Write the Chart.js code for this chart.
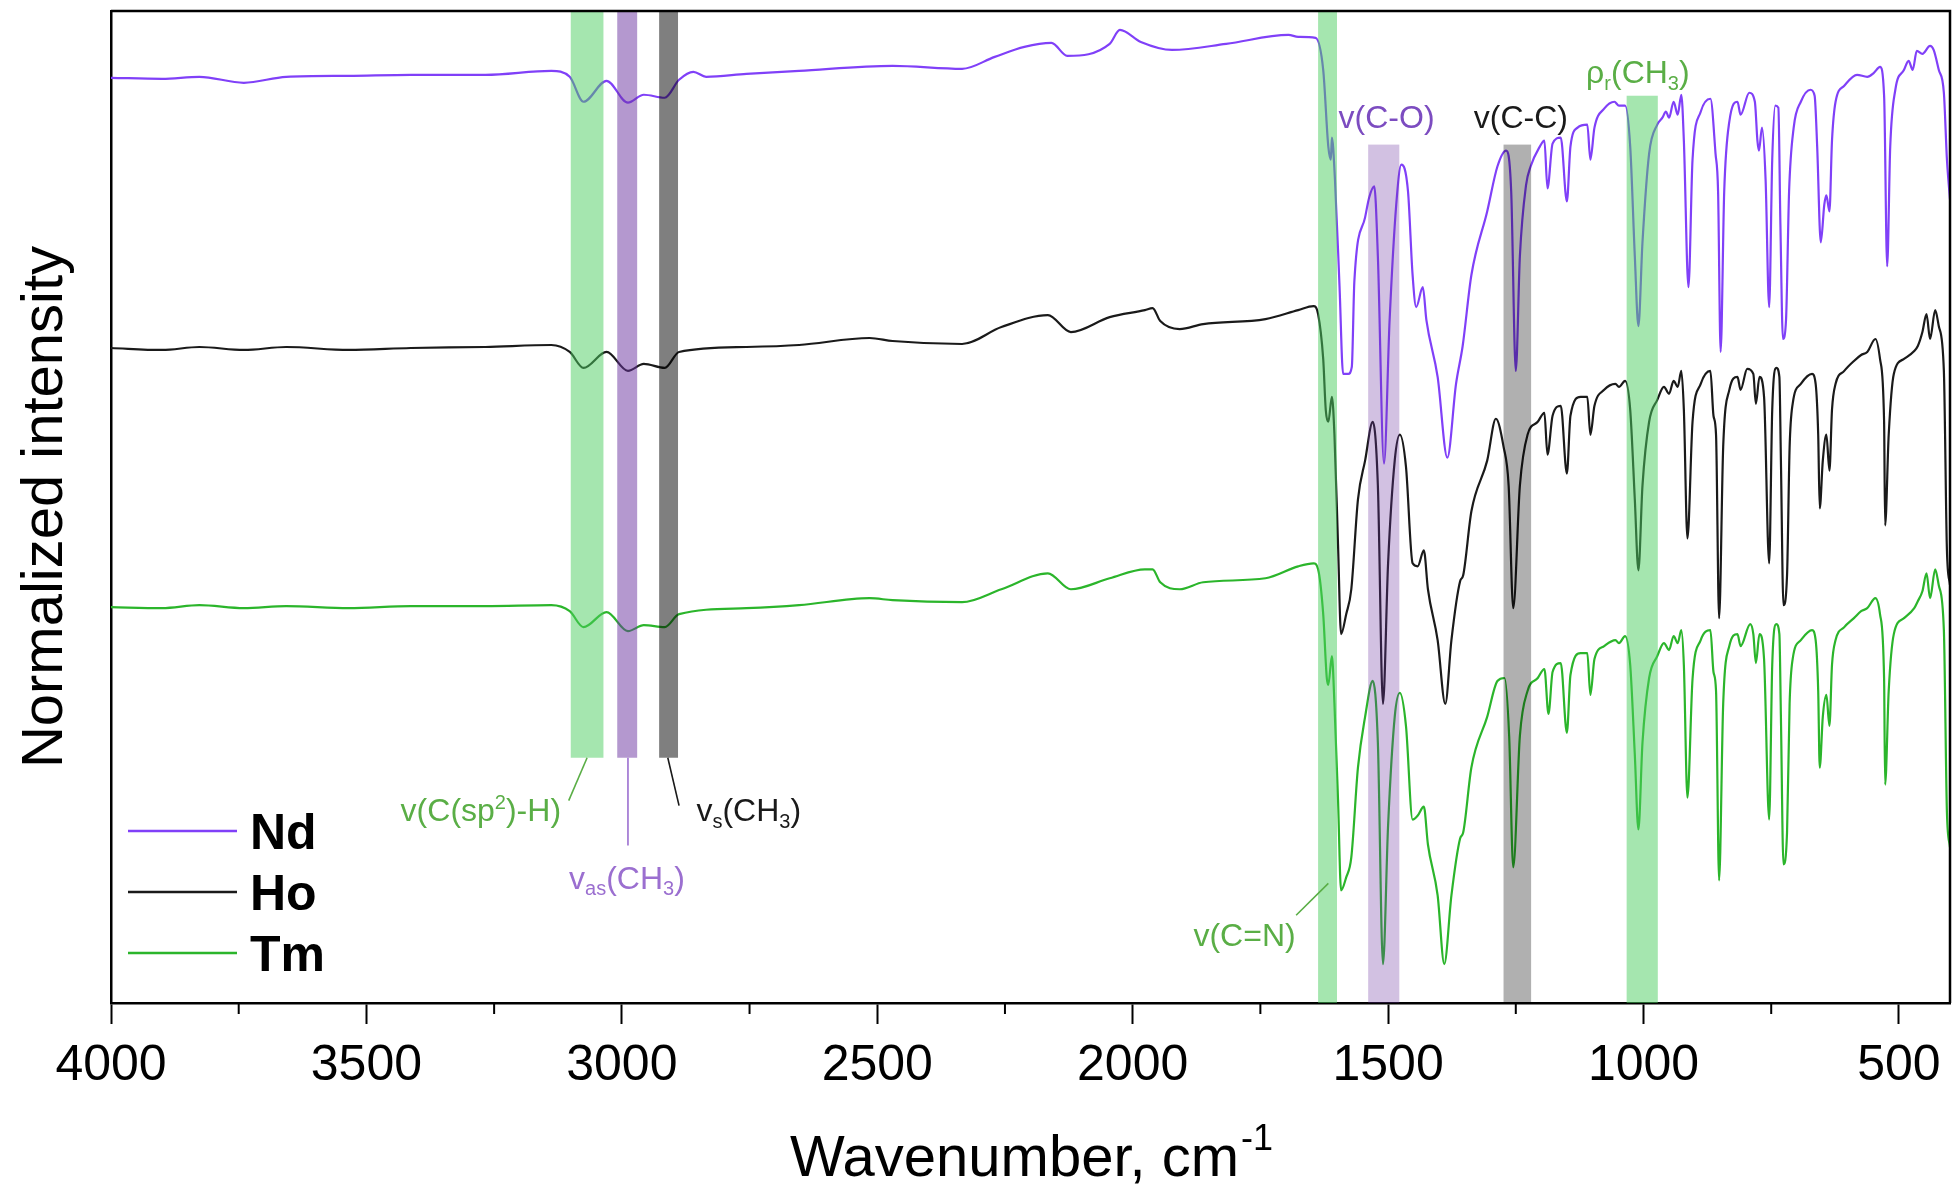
<!DOCTYPE html>
<html>
<head>
<meta charset="utf-8">
<title>IR spectra Nd / Ho / Tm</title>
<script src="https://cdn.jsdelivr.net/npm/chart.js@4.4.1/dist/chart.umd.min.js"></script>
<style>
    html, body { margin: 0; padding: 0; background: #fff; }
</style>
</head>
<body>
<canvas id="irChart" width="1953" height="1185"></canvas>
<script>
// Spectra: [wavenumber (cm-1), stacked normalized intensity]
const seriesLabels = ['Nd', 'Ho', 'Tm'];

const ndSpectrum = [
    [4000, 92.8], [3900, 92.7], [3827, 92.9], [3740, 92.3], [3657, 92.9], [3535, 93.0], [3413, 93.1], [3267, 93.1],
    [3138, 93.5], [3102, 92.9], [3075, 90.4], [3030, 92.5], [2988, 90.3], [2957, 91.1], [2916, 90.8], [2888, 92.6],
    [2860, 93.4], [2835, 92.9], [2756, 93.2], [2653, 93.5], [2470, 94.0], [2334, 93.7], [2270, 94.9], [2212, 95.9],
    [2159, 96.3], [2128, 95.0], [2045, 96.2], [2025, 97.6], [1984, 96.4], [1923, 95.6], [1817, 96.2], [1695, 97.1],
    [1676, 96.9], [1642, 96.8], [1627, 93.6], [1617, 85.9], [1612, 84.6], [1610, 86.8], [1604, 82.6], [1595, 71.8],
    [1588, 63.1], [1578, 63.1], [1571, 63.8], [1566, 72.4], [1545, 78.8], [1537, 80.8], [1527, 81.9], [1520, 74.9],
    [1508, 54.1], [1497, 68.5], [1484, 80.1], [1474, 84.1], [1461, 81.4], [1452, 73.0], [1445, 69.8], [1432, 71.8],
    [1425, 68.5], [1403, 62.8], [1384, 54.7], [1367, 62.1], [1354, 65.9], [1337, 73.0], [1306, 79.4], [1286, 83.9],
    [1269, 85.5], [1259, 81.4], [1250, 63.4], [1242, 74.9], [1230, 82.0], [1221, 83.9], [1203, 85.9], [1194, 86.5],
    [1188, 81.7], [1178, 86.2], [1162, 86.8], [1150, 80.4], [1143, 85.9], [1129, 87.8], [1110, 88.1], [1104, 84.6],
    [1096, 87.8], [1077, 89.7], [1057, 90.4], [1048, 90.0], [1036, 90.0], [1026, 85.9], [1017, 74.9], [1010, 67.9],
    [1002, 76.3], [989, 85.2], [973, 88.1], [963, 88.8], [956, 89.4], [950, 88.8], [941, 90.4], [933, 89.1],
    [926, 91.1], [921, 86.5], [912, 71.8], [904, 84.6], [888, 89.4], [869, 90.7], [859, 85.2], [854, 81.4],
    [849, 65.3], [842, 81.4], [832, 88.4], [816, 90.4], [810, 89.1], [793, 91.3], [782, 90.4], [777, 86.5],
    [774, 85.5], [768, 87.8], [761, 82.6], [754, 69.8], [748, 84.6], [742, 90.0], [736, 89.8], [732, 78.1],
    [727, 66.6], [721, 68.5], [715, 81.4], [706, 87.8], [692, 90.4], [673, 91.6], [665, 91.0], [660, 85.9],
    [653, 76.3], [646, 80.1], [642, 81.0], [636, 79.4], [631, 86.5], [624, 90.4], [607, 92.0], [582, 93.1],
    [562, 92.9], [549, 93.3], [537, 93.9], [529, 91.0], [523, 73.9], [517, 85.9], [507, 91.6], [490, 93.6],
    [481, 94.5], [473, 93.6], [465, 95.5], [454, 95.2], [439, 96.0], [432, 95.6], [422, 93.6], [412, 91.3],
    [406, 84.6], [400, 80.6]
];

const hoSpectrum = [
    [4000, 65.7], [3900, 65.5], [3827, 65.8], [3740, 65.5], [3657, 65.8], [3535, 65.5], [3413, 65.7], [3267, 65.8],
    [3138, 66.0], [3102, 65.3], [3075, 63.7], [3030, 65.3], [2988, 63.4], [2957, 64.1], [2916, 63.7], [2888, 65.3],
    [2756, 65.8], [2653, 66.0], [2515, 66.7], [2470, 66.4], [2334, 66.1], [2257, 67.8], [2166, 69.0], [2121, 67.3],
    [2045, 68.8], [1976, 69.5], [1961, 69.7], [1946, 68.4], [1908, 67.6], [1862, 68.1], [1740, 68.6], [1676, 69.5],
    [1646, 69.9], [1637, 69.1], [1627, 64.6], [1622, 59.5], [1617, 58.3], [1610, 60.8], [1605, 57.0], [1598, 46.0],
    [1592, 37.0], [1582, 39.0], [1572, 41.5], [1559, 50.5], [1545, 54.4], [1530, 58.3], [1520, 51.9], [1510, 30.0],
    [1500, 44.1], [1487, 54.4], [1477, 57.0], [1465, 53.8], [1452, 44.1], [1442, 43.8], [1430, 45.4], [1422, 41.5],
    [1403, 36.4], [1388, 30.0], [1376, 36.4], [1359, 42.3], [1353, 42.9], [1337, 49.3], [1306, 54.4], [1289, 58.6],
    [1274, 55.8], [1264, 51.9], [1255, 39.6], [1242, 51.9], [1227, 57.0], [1207, 58.3], [1194, 59.2], [1188, 55.0],
    [1178, 58.9], [1162, 59.9], [1150, 53.1], [1143, 58.9], [1123, 60.8], [1110, 60.8], [1104, 57.0], [1096, 59.9],
    [1077, 61.5], [1055, 62.1], [1048, 61.8], [1036, 62.4], [1026, 59.5], [1017, 50.5], [1010, 43.4], [1002, 51.9],
    [989, 58.3], [973, 60.5], [960, 61.8], [950, 61.1], [941, 62.4], [933, 61.8], [926, 63.4], [921, 59.5],
    [914, 46.6], [904, 58.3], [888, 62.1], [869, 63.4], [863, 58.9], [858, 57.0], [852, 38.6], [844, 55.8],
    [832, 61.5], [816, 62.8], [810, 61.5], [797, 63.6], [785, 63.1], [780, 60.1], [773, 62.8], [764, 60.8],
    [754, 44.1], [748, 59.5], [740, 63.7], [734, 62.8], [731, 54.4], [726, 39.9], [719, 42.9], [714, 55.7],
    [708, 60.1], [692, 62.1], [670, 63.1], [663, 62.1], [658, 57.0], [655, 49.6], [649, 54.4], [642, 57.0],
    [636, 53.4], [631, 59.5], [624, 62.1], [607, 63.4], [588, 64.4], [574, 65.0], [562, 65.3], [546, 66.6],
    [537, 64.6], [529, 58.3], [527, 47.9], [520, 57.0], [510, 63.1], [490, 64.6], [470, 65.4], [463, 65.9],
    [454, 67.3], [446, 69.1], [439, 66.6], [429, 69.5], [422, 67.9], [412, 63.4], [406, 45.4], [400, 41.9]
];

const tmSpectrum = [
    [4000, 39.7], [3900, 39.6], [3827, 39.9], [3740, 39.6], [3657, 39.8], [3535, 39.6], [3413, 39.8], [3267, 39.8],
    [3138, 39.9], [3102, 39.3], [3075, 37.7], [3030, 39.2], [2988, 37.3], [2957, 37.9], [2916, 37.7], [2888, 39.0],
    [2756, 39.6], [2653, 39.9], [2515, 40.6], [2470, 40.4], [2334, 40.2], [2257, 41.5], [2166, 43.1], [2121, 41.5],
    [2045, 42.6], [1976, 43.5], [1961, 43.5], [1946, 42.2], [1908, 41.5], [1862, 42.2], [1740, 42.6], [1676, 43.8],
    [1646, 44.1], [1637, 43.5], [1627, 39.0], [1620, 32.6], [1617, 31.9], [1610, 34.8], [1605, 30.0], [1598, 20.4],
    [1592, 11.3], [1582, 12.6], [1572, 14.6], [1559, 23.6], [1545, 28.7], [1530, 32.3], [1520, 26.1], [1510, 3.9],
    [1500, 17.8], [1487, 28.7], [1477, 31.1], [1465, 27.8], [1452, 18.4], [1442, 18.8], [1430, 19.7], [1422, 15.9],
    [1403, 10.8], [1390, 3.9], [1376, 10.8], [1359, 16.5], [1353, 17.1], [1337, 23.6], [1306, 28.7], [1286, 32.3],
    [1272, 32.6], [1263, 26.8], [1255, 13.6], [1242, 26.8], [1227, 31.3], [1207, 32.6], [1194, 33.5], [1186, 29.0],
    [1178, 33.2], [1162, 34.1], [1150, 27.1], [1143, 32.9], [1123, 35.1], [1110, 35.1], [1104, 30.9], [1096, 34.5],
    [1077, 35.8], [1055, 36.4], [1048, 36.1], [1036, 36.8], [1026, 33.9], [1017, 24.9], [1010, 17.4], [1002, 26.1],
    [989, 32.6], [973, 34.8], [960, 36.1], [950, 35.4], [941, 36.8], [933, 36.1], [926, 37.4], [921, 33.9],
    [914, 20.6], [904, 32.5], [888, 36.4], [869, 37.4], [863, 33.2], [858, 31.3], [852, 12.3], [844, 30.0],
    [832, 35.8], [816, 37.0], [810, 35.8], [791, 38.0], [785, 37.0], [780, 34.1], [773, 37.0], [764, 34.5],
    [754, 18.4], [748, 33.9], [740, 38.0], [734, 37.0], [731, 28.7], [726, 13.9], [719, 17.1], [714, 30.0],
    [708, 34.5], [692, 36.4], [670, 37.4], [663, 36.4], [658, 31.3], [655, 23.6], [649, 28.7], [642, 30.9],
    [636, 27.8], [631, 33.9], [624, 36.4], [607, 37.7], [588, 38.6], [574, 39.3], [562, 39.6], [546, 40.6],
    [537, 39.0], [529, 32.5], [527, 21.9], [520, 31.3], [510, 37.0], [490, 38.6], [470, 39.6], [463, 40.3],
    [454, 41.3], [446, 43.1], [439, 40.6], [429, 43.5], [422, 41.9], [412, 37.4], [406, 19.1], [400, 15.6]
];

// Highlighted vibration bands: wavenumber range and intensity range
const bandFrom = [3100, 3009, 2927, 1637, 1539, 1274, 1033];
const bandTo = [3036, 2970, 2890, 1600, 1478, 1220, 972];
const bandTop = [99.5, 99.5, 99.5, 99.5, 86.1, 86.1, 91.0];
const bandBottom = [24.6, 24.6, 24.6, 0, 0, 0, 0];

const xTicks = [4000, 3500, 3000, 2500, 2000, 1500, 1000, 500];

// Styles
const seriesColors = ['#8040f8', '#1a1a1a', '#2bb52b'];
const bandColors = [
    'rgba(76, 205, 96, 0.5)',
    'rgba(105, 50, 160, 0.5)',
    'rgba(0, 0, 0, 0.5)',
    'rgba(76, 205, 96, 0.5)',
    'rgba(105, 50, 160, 0.3)',
    'rgba(0, 0, 0, 0.31)',
    'rgba(76, 205, 96, 0.5)'
];
const FONT = '"Liberation Sans", Arial, sans-serif';
const green = '#5aae46';
const purple = '#7c4cc0';
const lightPurple = '#9b6fd0';

// Band labels, anchored in data coordinates
const annotations = [
    { parts: [['v(C(sp', ''], ['2', 'sup'], [')-H)', '']], wn: 3119, level: 19.4, align: 'right', color: green,
      leader: [[3104, 20.3], [3068, 24.6]] },
    { parts: [['v', ''], ['as', 'sub'], ['(CH', ''], ['3', 'sub'], [')', '']], wn: 2990, level: 12.6, align: 'center',
      color: lightPurple, leader: [[2988, 24.6], [2988, 15.8]] },
    { parts: [['v', ''], ['s', 'sub'], ['(CH', ''], ['3', 'sub'], [')', '']], wn: 2854, level: 19.4, align: 'left',
      color: '#1a1a1a', leader: [[2910, 24.6], [2888, 19.8]] },
    { parts: [['v(C=N)', '']], wn: 1781, level: 6.9, align: 'center', color: green,
      leader: [[1680, 8.8], [1617, 12.0]] },
    { parts: [['v(C-O)', '']], wn: 1503, level: 88.9, align: 'center', color: purple },
    { parts: [['v(C-C)', '']], wn: 1240, level: 88.9, align: 'center', color: '#1a1a1a' },
    { parts: [['\u03C1', ''], ['r', 'sub'], ['(CH', ''], ['3', 'sub'], [')', '']], wn: 1011, level: 93.4, align: 'center',
      color: green }
];

// Draw text made of normal / subscript / superscript parts; y is the vertical centre
function drawParts(ctx, parts, x, y, align, size, color) {
    const fontFor = kind => (kind ? Math.round(size * 0.62) : size) + 'px ' + FONT;
    let width = 0;
    parts.forEach(([t, kind]) => {
        ctx.font = fontFor(kind);
        width += ctx.measureText(t).width;
    });
    let cx = align === 'right' ? x - width : align === 'center' ? x - width / 2 : x;
    const baseline = y + size * 0.36;
    ctx.fillStyle = color;
    ctx.textAlign = 'left';
    ctx.textBaseline = 'alphabetic';
    parts.forEach(([t, kind]) => {
        ctx.font = fontFor(kind);
        const dy = kind === 'sub' ? size * 0.2 : kind === 'sup' ? -size * 0.38 : 0;
        ctx.fillText(t, cx, baseline + dy);
        cx += ctx.measureText(t).width;
    });
}

const bandPlugin = {
    id: 'bands',
    afterDatasetsDraw(chart) {
        const { ctx, scales: { x, y } } = chart;
        ctx.save();
        bandFrom.forEach((from, i) => {
            const a = x.getPixelForValue(from);
            const b = x.getPixelForValue(bandTo[i]);
            const top = y.getPixelForValue(bandTop[i]);
            const bottom = y.getPixelForValue(bandBottom[i]);
            ctx.fillStyle = bandColors[i];
            ctx.fillRect(Math.min(a, b), top, Math.abs(b - a), bottom - top);
        });
        ctx.restore();
    }
};

const annotationPlugin = {
    id: 'bandLabels',
    afterDatasetsDraw(chart) {
        const { ctx, scales: { x, y } } = chart;
        ctx.save();
        annotations.forEach(a => {
            if (a.leader) {
                ctx.strokeStyle = a.color;
                ctx.lineWidth = 1.6;
                ctx.beginPath();
                ctx.moveTo(x.getPixelForValue(a.leader[0][0]), y.getPixelForValue(a.leader[0][1]));
                ctx.lineTo(x.getPixelForValue(a.leader[1][0]), y.getPixelForValue(a.leader[1][1]));
                ctx.stroke();
            }
            drawParts(ctx, a.parts, x.getPixelForValue(a.wn), y.getPixelForValue(a.level), a.align, 32, a.color);
        });
        ctx.restore();
    }
};

const framePlugin = {
    id: 'frame',
    afterDraw(chart) {
        const { ctx, chartArea: area, scales: { x } } = chart;
        ctx.save();
        ctx.strokeStyle = '#000';
        ctx.lineWidth = 2.5;
        ctx.beginPath();
        ctx.moveTo(area.left, area.top);
        ctx.lineTo(area.right, area.top);
        ctx.lineTo(area.right, area.bottom);
        ctx.stroke();

        // minor ticks half way between the labelled ones
        ctx.lineWidth = 2;
        const values = x.ticks.map(t => t.value).sort((p, q) => p - q);
        for (let i = 0; i < values.length - 1; i++) {
            const px = x.getPixelForValue((values[i] + values[i + 1]) / 2);
            ctx.beginPath();
            ctx.moveTo(px, area.bottom);
            ctx.lineTo(px, area.bottom + 11);
            ctx.stroke();
        }

        // axis titles
        ctx.fillStyle = '#000';
        ctx.textBaseline = 'alphabetic';
        const main = 'Wavenumber, cm';
        ctx.font = '58px ' + FONT;
        const w1 = ctx.measureText(main).width;
        ctx.font = '36px ' + FONT;
        const w2 = ctx.measureText('-1').width;
        const cx = (area.left + area.right) / 2;
        ctx.textAlign = 'left';
        ctx.font = '58px ' + FONT;
        ctx.fillText(main, cx - (w1 + w2) / 2, 1176);
        ctx.font = '36px ' + FONT;
        ctx.fillText('-1', cx - (w1 + w2) / 2 + w1 + 2, 1150);

        ctx.save();
        ctx.translate(46, (area.top + area.bottom) / 2);
        ctx.rotate(-Math.PI / 2);
        ctx.textAlign = 'center';
        ctx.textBaseline = 'middle';
        ctx.font = '58px ' + FONT;
        ctx.fillText('Normalized intensity', 0, 0);
        ctx.restore();

        // legend
        const legendY = [831, 892, 953];
        seriesLabels.forEach((label, i) => {
            ctx.strokeStyle = seriesColors[i];
            ctx.lineWidth = 2.5;
            ctx.beginPath();
            ctx.moveTo(area.left + 17, legendY[i]);
            ctx.lineTo(area.left + 126, legendY[i]);
            ctx.stroke();
            ctx.fillStyle = '#000';
            ctx.font = 'bold 50px ' + FONT;
            ctx.textAlign = 'left';
            ctx.textBaseline = 'alphabetic';
            ctx.fillText(label, area.left + 139, legendY[i] + 18);
        });
        ctx.restore();
    }
};

const spectra = [ndSpectrum, hoSpectrum, tmSpectrum];

new Chart(document.getElementById('irChart'), {
    type: 'line',
    data: {
        datasets: spectra.map((points, i) => ({
            label: seriesLabels[i],
            data: points.map(([wn, v]) => ({ x: wn, y: v })),
            borderColor: seriesColors[i],
            borderWidth: 2.2,
            pointRadius: 0,
            cubicInterpolationMode: 'monotone',
            borderJoinStyle: 'round',
            fill: false
        }))
    },
    options: {
        responsive: false,
        animation: false,
        events: [],
        layout: { padding: { top: 11, right: 3, left: 0, bottom: 0 } },
        plugins: {
            legend: { display: false },
            tooltip: { enabled: false }
        },
        scales: {
            x: {
                type: 'linear',
                reverse: true,
                min: 400,
                max: 4000,
                afterFit: scale => { scale.height = 182; },
                afterBuildTicks: scale => { scale.ticks = xTicks.map(v => ({ value: v })); },
                ticks: {
                    font: { family: FONT, size: 50 },
                    color: '#000',
                    padding: 12,
                    maxRotation: 0,
                    autoSkip: false,
                    callback: value => String(value)
                },
                grid: {
                    display: true,
                    drawOnChartArea: false,
                    drawTicks: true,
                    tickLength: 21,
                    tickWidth: 2,
                    tickColor: '#000'
                },
                border: { display: true, color: '#000', width: 2.5 }
            },
            y: {
                type: 'linear',
                min: 0,
                max: 99.5,
                afterFit: scale => { scale.width = 111; },
                ticks: { display: false },
                grid: { display: false, drawTicks: false },
                border: { display: true, color: '#000', width: 2.5 }
            }
        }
    },
    plugins: [bandPlugin, annotationPlugin, framePlugin]
});
</script>
</body>
</html>
